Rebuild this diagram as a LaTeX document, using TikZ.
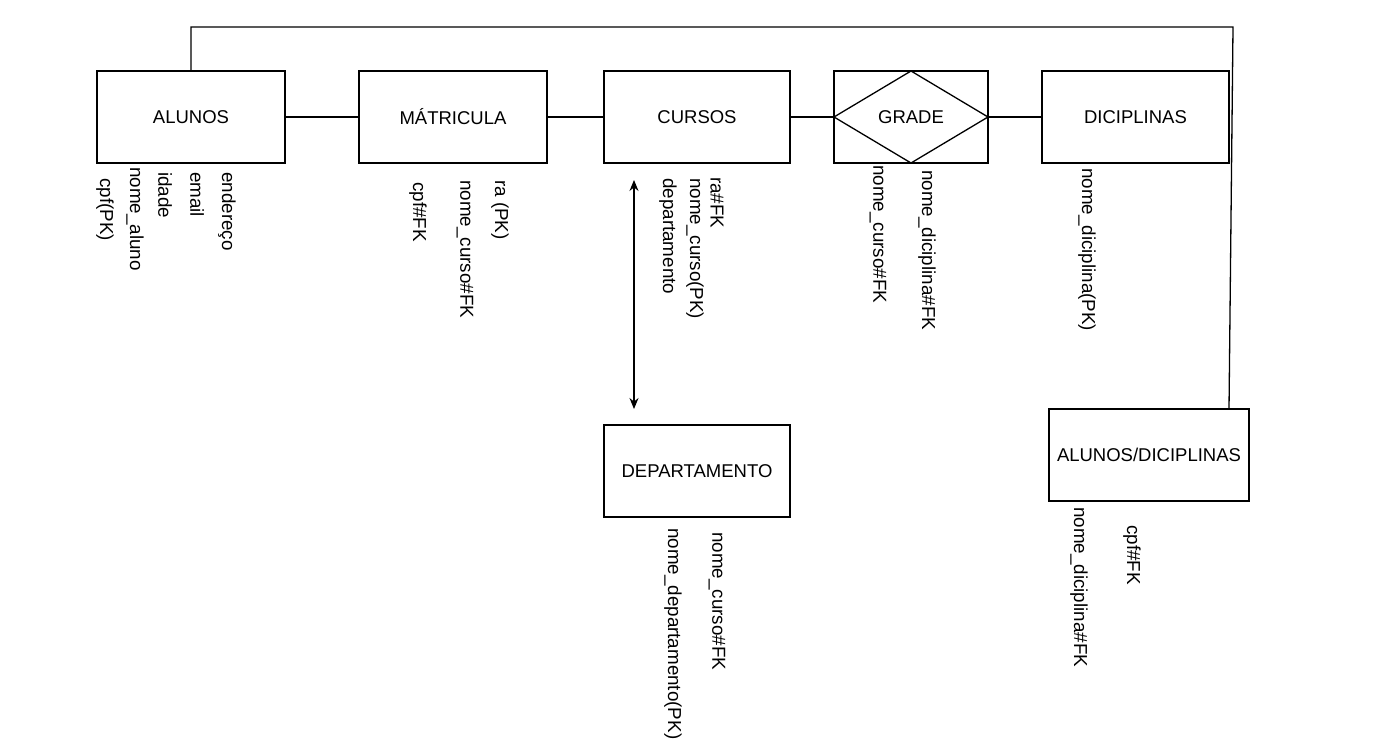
\documentclass[tikz,border=0pt]{standalone}
\usepackage{fontspec}
\setmainfont{Liberation Sans}
\usepackage{xcolor}
\usepackage{tikz}
\usetikzlibrary{positioning, arrows.meta, calc}
\definecolor{inkblack}{HTML}{000000}

\tikzset{
  entity/.style={draw=inkblack, line width=1.3pt, minimum width=188pt, minimum height=92pt,
                 inner sep=0pt, outer sep=0pt, font=\fontsize{18.5}{22}\selectfont},
  attr/.style={rotate=-90, anchor=west, inner sep=0pt, font=\fontsize{18.8}{22}\selectfont},
  link/.style={draw=inkblack, line width=1.3pt},
}

\begin{document}
\begin{tikzpicture}[x=1pt, y=-1pt]
    \useasboundingbox (0,0) rectangle (1375,751);
    \node[entity] (alunos) at (191,117) {ALUNOS};
    \node[entity, right=74pt of alunos] (matricula) {MÁTRICULA};
    \node[entity, minimum width=186pt, right=57pt of matricula] (cursos) {CURSOS};
    \node[entity, minimum width=154pt, right=44pt of cursos] (grade) {};
    \node[entity, minimum width=187pt, right=54pt of grade] (diciplinas) {DICIPLINAS};
    \node[entity, minimum width=186pt] (departamento) at (697,471) {DEPARTAMENTO};
    \node[entity, minimum width=200pt] (alunosdic) at (1149,455) {ALUNOS/DICIPLINAS};
    \draw[link] (grade.west) -- (grade.north) -- (grade.east) -- (grade.south) -- cycle;
    \node[font=\fontsize{18.5}{22}\selectfont] (gradelabel) at (grade.center) {GRADE};

    \draw[link] (alunos) -- (matricula);
    \draw[link] (matricula) -- (cursos);
    \draw[link] (cursos) -- (grade);
    \draw[link] (grade.east) -- (diciplinas.west);
    \coordinate (corner) at (1233,27);
    \draw[link] (alunos.north) |- (corner) -- ([xshift=-20pt]alunosdic.north east);
    \draw[link, {Stealth[length=11pt, width=9pt]}-{Stealth[length=11pt, width=9pt]},
          shorten <=17pt, shorten >=16pt]
      ([xshift=30pt]cursos.south west) -- ([xshift=30pt]departamento.north west);

    % atributos
    \node[attr] (a-endereco) at (227,172) {endereço};
    \node[attr] (a-email) at (197,172) {email};
    \node[attr] (a-idade) at (165,172) {idade};
    \node[attr] (a-nome) at (135,167) {nome\_aluno};
    \node[attr] (a-cpf) at (105,178) {cpf(PK)};

    \node[attr] (m-cpf) at (418,182) {cpf\#FK};
    \node[attr] (m-curso) at (465,180) {nome\_curso\#FK};
    \node[attr] (m-ra) at (500,180) {ra (PK)};

    \node[attr] (c-depto) at (668,178) {departamento};
    \node[attr] (c-nome) at (695,178) {nome\_curso(PK)};
    \node[attr] (c-ra) at (717,177) {ra\#FK};

    \node[attr] (g-curso) at (878,165) {nome\_curso\#FK};
    \node[attr] (g-dicip) at (927,170) {nome\_diciplina\#FK};

    \node[attr] (d-nome) at (1087,168) {nome\_diciplina(PK)};

    \node[attr] (p-nome) at (673,528) {nome\_departamento(PK)};
    \node[attr] (p-curso) at (717,532) {nome\_curso\#FK};

    \node[attr] (ad-dicip) at (1079,507) {nome\_diciplina\#FK};
    \node[attr] (ad-cpf) at (1132,525) {cpf\#FK};
\end{tikzpicture}
\end{document}
